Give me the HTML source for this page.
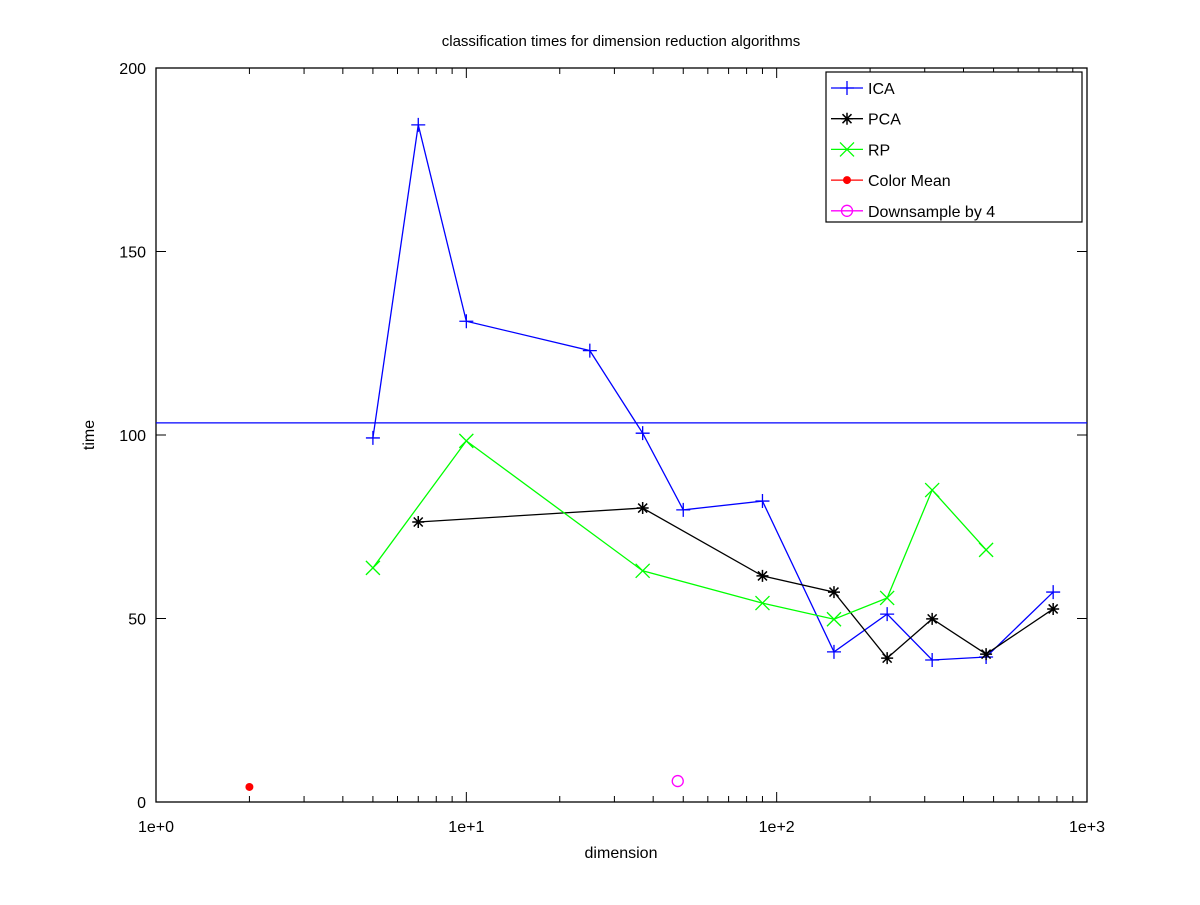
<!DOCTYPE html>
<html><head><meta charset="utf-8"><style>
body{margin:0;background:#fff}
svg text{font-family:"Liberation Sans",sans-serif;fill:#000}
</style></head><body>
<svg id="chart" width="1200" height="900" xmlns="http://www.w3.org/2000/svg">
<rect width="1200" height="900" fill="#fff"/>
<text x="621" y="46" font-size="15" text-anchor="middle">classification times for dimension reduction algorithms</text>
<text x="621" y="858" font-size="16" text-anchor="middle">dimension</text>
<text x="0" y="0" font-size="16" text-anchor="middle" transform="translate(94,435) rotate(-90)">time</text>
<g id="axes"></g>
<g id="series"></g>
<g id="legend"></g>
</svg>
<script>
const icaX=[5,7,10,25,37,50,90,153,227,317,473,778];
const icaY=[99.2,184.5,131,123,100.5,79.6,82,40.9,51.2,38.7,39.5,57.2];
const pcaX=[7,37,90,153,227,317,473,778];
const pcaY=[76.3,80.1,61.6,57.2,39.2,49.9,40.3,52.6];
const rpX=[5,10,37,90,153,227,317,473];
const rpY=[63.8,98.4,63,54.2,49.8,55.6,85,68.7];
const colorMeanX=[2];
const colorMeanY=[4.1];
const downX=[48];
const downY=[5.7];
const icaMeanLine=103.3;
const xTickExps=[0,1,2,3];
const xTickLabels=["1e+0","1e+1","1e+2","1e+3"];
const yTicks=[0,50,100,150,200];

const L=156,R=1087,T=68,B=802;
const sx=v=>L+Math.log10(v)/3*(R-L);
const sy=v=>B-v/200*(B-T);
const NS="http://www.w3.org/2000/svg";
function mk(tag,attrs,parent){const e=document.createElementNS(NS,tag);for(const k in attrs)e.setAttribute(k,attrs[k]);parent.appendChild(e);return e;}
const axes=document.getElementById('axes'),ser=document.getElementById('series'),leg=document.getElementById('legend');

let box=mk('rect',{x:L,y:T,width:R-L,height:B-T,fill:'none',stroke:'#000','stroke-width':1.3},axes);


for(let d=0;d<3;d++){for(let m=2;m<=9;m++){const x=sx(m*Math.pow(10,d));
 let t1=mk('line',{x1:x,x2:x,y1:B,y2:B-6,stroke:'#000'},axes);
 
 
 let t2=mk('line',{x1:x,x2:x,y1:T,y2:T+6,stroke:'#000'},axes);
 
 }}
xTickExps.forEach((e,i)=>{const x=sx(Math.pow(10,e));
 let t=mk('line',{x1:x,x2:x,y1:B,y2:B-10,stroke:'#000'},axes);
 
 
 let t2=mk('line',{x1:x,x2:x,y1:T,y2:T+10,stroke:'#000'},axes);
 
 
 let lb=mk('text',{x:x,y:832,'font-size':16,'text-anchor':'middle'},axes);lb.textContent=xTickLabels[i];
 
 });
yTicks.forEach(v=>{const y=sy(v);
 let t=mk('line',{x1:L,x2:L+10,y1:y,y2:y,stroke:'#000'},axes);
 
 
 let t2=mk('line',{x1:R,x2:R-10,y1:y,y2:y,stroke:'#000'},axes);
 
 
 let lb=mk('text',{x:146,y:y+6,'font-size':16,'text-anchor':'end'},axes);lb.textContent=v;
 
 });

let hl=mk('line',{x1:L,x2:R,y1:sy(icaMeanLine),y2:sy(icaMeanLine),stroke:'#0000ff','stroke-width':1.2},ser);



function marker(type,x,y,color,g){
 if(type==='plus'){mk('path',{d:`M${x-7} ${y}H${x+7}M${x} ${y-7}V${y+7}`,stroke:color,'stroke-width':1.3,fill:'none'},g);}
 else if(type==='star'){mk('path',{d:`M${x-6} ${y}H${x+6}M${x} ${y-6}V${y+6}M${x-4.5} ${y-4.5}L${x+4.5} ${y+4.5}M${x-4.5} ${y+4.5}L${x+4.5} ${y-4.5}`,stroke:color,'stroke-width':1.5,fill:'none'},g);}
 else if(type==='x'){mk('path',{d:`M${x-7} ${y-7}L${x+7} ${y+7}M${x-7} ${y+7}L${x+7} ${y-7}`,stroke:color,'stroke-width':1.3,fill:'none'},g);}
 else if(type==='dot'){mk('circle',{cx:x,cy:y,r:4,fill:color},g);}
 else if(type==='circle'){mk('circle',{cx:x,cy:y,r:5.5,fill:'none',stroke:color,'stroke-width':1.3},g);}
}
function series(name,xs,ys,color,type){
 const g=mk('g',{},ser);
 
 
 if(xs.length>1){const p=mk('polyline',{points:xs.map((v,i)=>sx(v)+','+sy(ys[i])).join(' '),fill:'none',stroke:color,'stroke-width':1.3},g);
  
  }
 xs.forEach((v,i)=>marker(type,sx(v),sy(ys[i]),color,g));
}
series('ica',icaX,icaY,'#0000ff','plus');
series('pca',pcaX,pcaY,'#000000','star');
series('rp',rpX,rpY,'#00ff00','x');
series('color-mean',colorMeanX,colorMeanY,'#ff0000','dot');
series('downsample',downX,downY,'#ff00ff','circle');

let lbox=mk('rect',{x:826,y:72,width:256,height:150,fill:'#fff',stroke:'#000','stroke-width':1.2},leg);


[['ICA','#0000ff','plus'],['PCA','#000000','star'],['RP','#00ff00','x'],['Color Mean','#ff0000','dot'],['Downsample by 4','#ff00ff','circle']].forEach((e,i)=>{
 const y=88+i*30.7;const g=mk('g',{},leg);
 
 
 mk('line',{x1:831,x2:863,y1:y,y2:y,stroke:e[1],'stroke-width':1.3},g);
 marker(e[2],847,y,e[1],g);
 const t=mk('text',{x:868,y:y+6,'font-size':16},g);t.textContent=e[0];
});
</script>
</body></html>
